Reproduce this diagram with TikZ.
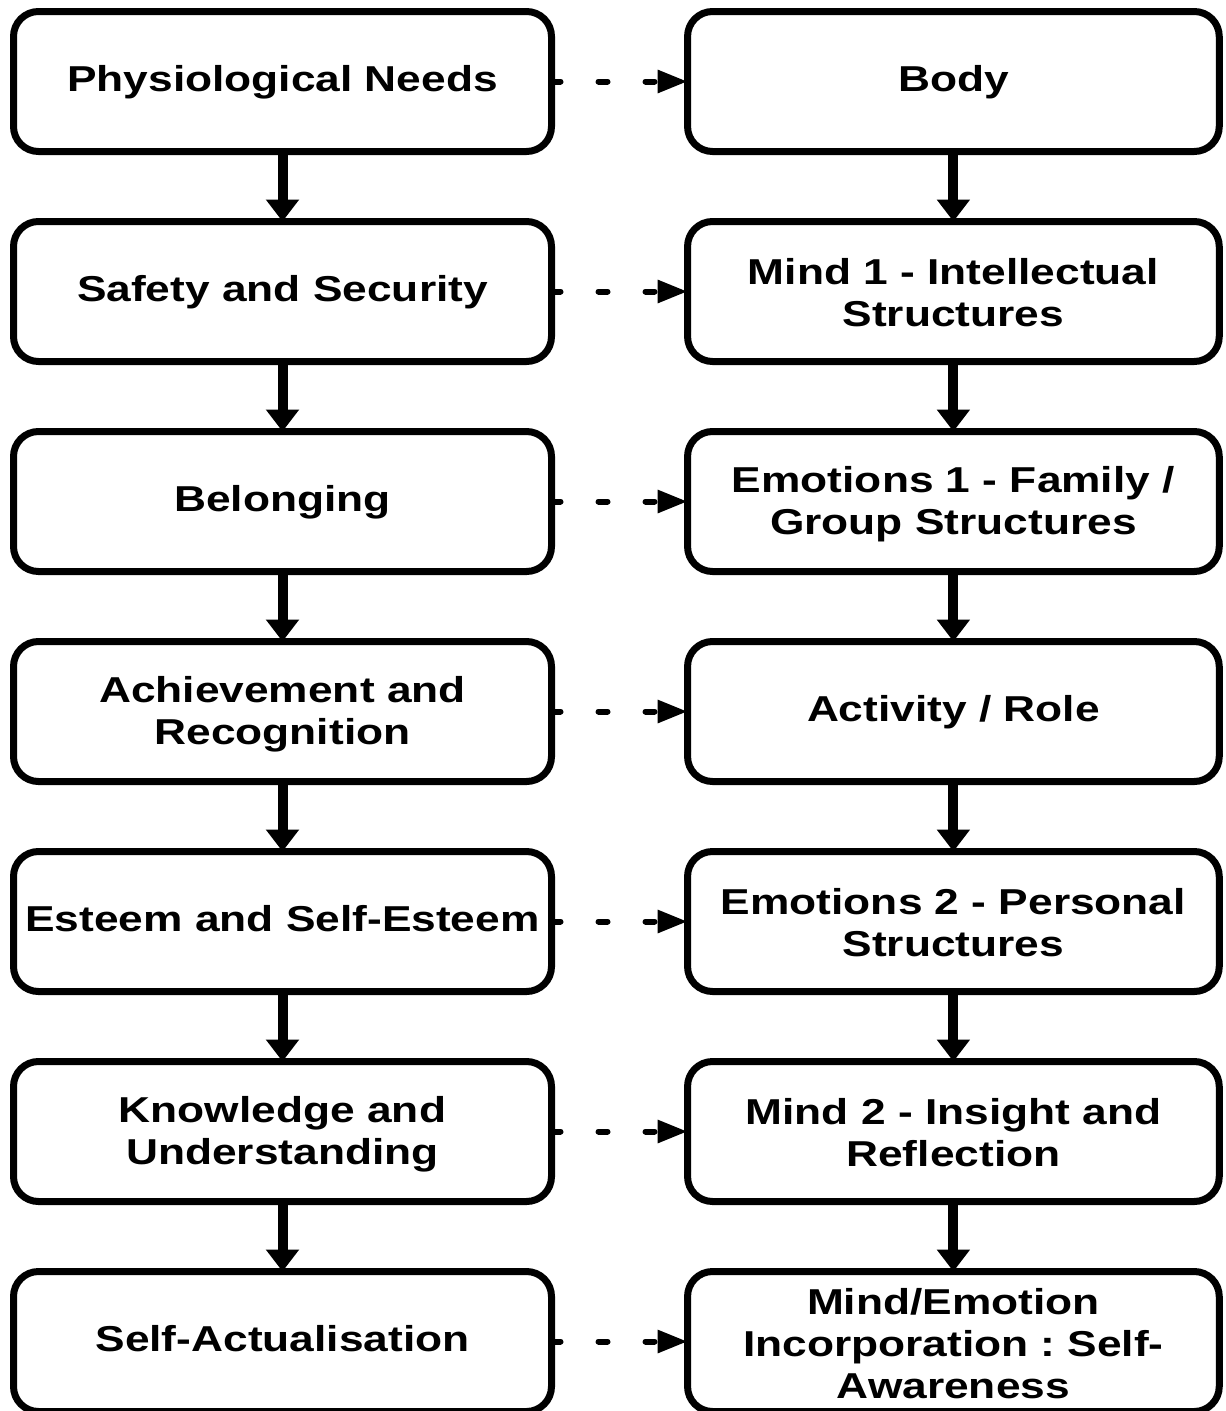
\documentclass[tikz,border=0pt]{standalone}
\usepackage{fontspec}
\setmainfont{Liberation Sans}[FakeStretch=1.23]
\usetikzlibrary{arrows.meta}
\frenchspacing
\newcommand{\sA}{\rule[-8pt]{0pt}{35pt}}
\newcommand{\sB}{\rule[-4pt]{0pt}{36pt}}
\newcommand{\sC}{\rule[-3pt]{0pt}{36pt}}
\tikzset{
  box/.style={draw=black, line width=7pt, rounded corners=25pt, fill=white,
    minimum height=140pt, inner sep=0pt, outer sep=0pt, align=center,
    font=\fontsize{36pt}{42pt}\selectfont\bfseries\frenchspacing},
  lbox/.style={box, minimum width=538pt},
  rbox/.style={box, minimum width=531.7pt},
  down/.style={line width=10pt, -{Triangle[width=32pt,length=22pt]}},
  across/.style={line width=6pt, line cap=round, dash pattern=on 9pt off 38pt,
    -{Triangle[width=22pt,length=30pt]}}
}
\begin{document}
\begin{tikzpicture}[x=1pt,y=-1pt]
\useasboundingbox (0,0) rectangle (1226,1411);
% left column
\node[lbox] (L1) at (282.5,81.5)   {\sA Physiological Needs};
\node[lbox] (L2) at (282.5,291.5)  {\sA Safety and Security};
\node[lbox] (L3) at (282.5,501.5)  {\sA Belonging};
\node[lbox] (L4) at (282.5,711.5)  {\sB Achievement and\\\sB Recognition};
\node[lbox] (L5) at (282.5,921.5)  {\sA Esteem and Self-Esteem};
\node[lbox] (L6) at (282.5,1131.5) {\sB Knowledge and\\\sB Understanding};
\node[lbox] (L7) at (282.5,1341.5) {\sA Self-Actualisation};
% right column
\node[rbox] (R1) at (953.4,81.5)   {\sA Body};
\node[rbox] (R2) at (953.4,291.5)  {\sB Mind 1 - Intellectual\\\sB Structures};
\node[rbox] (R3) at (953.4,501.5)  {\sB Emotions 1 - Family /\\\sB Group Structures};
\node[rbox] (R4) at (953.4,711.5)  {\sA Activity / Role};
\node[rbox] (R5) at (953.4,921.5)  {\sB Emotions 2 - Personal\\\sB Structures};
\node[rbox] (R6) at (953.4,1131.5) {\sB Mind 2 - Insight and\\\sB Reflection};
\node[rbox] (R7) at (953.4,1341.5) {\sC Mind/Emotion\\\sC Incorporation : Self-\\\sC Awareness};
% vertical arrows
\foreach \a/\b in {1/2,2/3,3/4,4/5,5/6,6/7}{
  \draw[down] (L\a.south) -- (L\b.north);
  \draw[down] (R\a.south) -- (R\b.north);
}
% dashed arrows
\foreach \i in {1,...,7}{
  \draw[across] (L\i.east) -- (R\i.west);
}
\end{tikzpicture}
\end{document}
